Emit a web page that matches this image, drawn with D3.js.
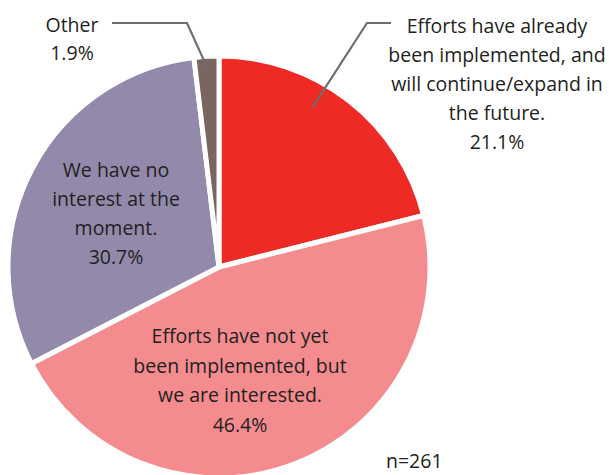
<!DOCTYPE html>
<html>
<head>
<meta charset="utf-8">
<script src="https://cdn.jsdelivr.net/npm/d3@7"></script>
<style>
    body { margin: 0; background: #fff; }
    text { font-family: "Open Sans", sans-serif; fill: #231f20; }
</style>
</head>
<body>
<div id="chart"></div>
<script>
// survey answers, clockwise from 12 o'clock
var categories = ["implemented", "interested", "noInterest", "other"];
var values = [21.1, 46.4, 30.7, 1.9];
var labelLines = [
    ["Efforts have already", "been implemented, and", "will continue/expand in", "the future.", "21.1%"],
    ["Efforts have not yet", "been implemented, but", "we are interested.", "46.4%"],
    ["We have no", "interest at the", "moment.", "30.7%"],
    ["Other", "1.9%"]
];
var sampleNote = "n=261";

var width = 609, height = 475;
var cx = 219, cy = 267, radius = 211;

var svg = d3.select("#chart")
    .append("svg")
    .attr("width", width)
    .attr("height", height);

var color = d3.scaleOrdinal()
    .domain(categories)
    .range(["#ee2a24", "#f48c8f", "#938aab", "#7a6560"]);

var pie = d3.pie().sort(null).value(function (d) { return d; });
var arc = d3.arc().innerRadius(0).outerRadius(radius);
var arcs = pie(values);

var g = svg.append("g").attr("transform", "translate(" + cx + "," + cy + ")");

g.selectAll("path")
    .data(arcs)
    .enter()
    .append("path")
    .attr("d", arc)
    .attr("fill", function (d, i) { return color(categories[i]); })
    .attr("stroke", "#fff")
    .attr("stroke-width", 5)
    .attr("stroke-linejoin", "round");

// point on a slice at a given radius, at a fraction of its angle span
function slicePoint(d, r, frac) {
    var a = d.startAngle + (d.endAngle - d.startAngle) * frac;
    return [cx + r * Math.sin(a), cy - r * Math.cos(a)];
}

// leader lines for the two labels outside the pie
var leaderStart = slicePoint(arcs[0], 185, 0.4);
var otherEnd = slicePoint(arcs[3], 200, 0.5);
var leaders = [
    [leaderStart, [367, 23], [391, 23]],
    [[112, 23], [187, 23], otherEnd]
];
svg.selectAll("path.leader")
    .data(leaders)
    .enter()
    .append("path")
    .attr("class", "leader")
    .attr("d", d3.line())
    .attr("fill", "none")
    .attr("stroke", "#6d6e71")
    .attr("stroke-width", 2.2);

// label anchors: centre x and first baseline
var labelPos = [[497, 33], [240, 343], [116, 177], [72, 32]];
var lineGap = [29, 29.5, 29, 28];

labelLines.forEach(function (lines, i) {
    var t = svg.append("text")
        .attr("text-anchor", "middle")
        .attr("font-size", 19.5)
        .attr("x", labelPos[i][0])
        .attr("y", labelPos[i][1]);
    lines.forEach(function (line, j) {
        t.append("tspan")
            .attr("x", labelPos[i][0])
            .attr("dy", j === 0 ? 0 : lineGap[i])
            .text(line);
    });
});

svg.append("text")
    .attr("x", 386)
    .attr("y", 468)
    .attr("font-size", 19.5)
    .text(sampleNote);
</script>
</body>
</html>
